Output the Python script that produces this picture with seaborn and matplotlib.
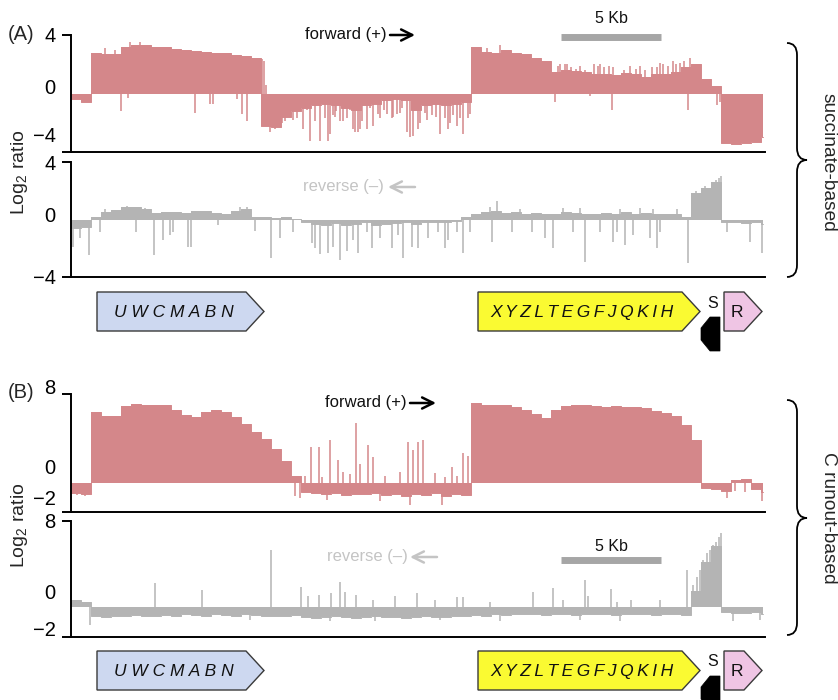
import numpy as np
import pandas as pd
import matplotlib
matplotlib.use("Agg")
import matplotlib.pyplot as plt
import seaborn as sns
from matplotlib.patches import Polygon, PathPatch
from matplotlib.path import Path
from matplotlib.transforms import ScaledTranslation, blended_transform_factory

# ---------------- data ----------------
bin_kb = 0.5           # width of one signal bin (kb)
track_end_kb = 34.6    # end of the displayed region (kb)

# (A) succinate-based, forward (+) strand, log2 ratio per 0.5 kb bin
succ_fwd = [-0.35, -0.6, 2.8, 2.7, 2.7, 3.2, 3.35, 3.3, 3.2, 3.15,
            3.05, 2.95, 2.9, 2.85, 2.8, 2.75, 2.65, 2.55, 2.45, -2.2,
            -2.3, -1.6, -1.2, -1.0, -0.8, -0.7, -0.8, -1.0, -1.15, -0.8,
            -0.7, -0.45, -0.35, -0.45, -1.15, -0.8, -0.7, -0.8, -0.7, -0.6,
            3.2, 2.85, 2.75, 2.95, 2.75, 2.7, 2.4, 2.2, 1.5, 1.6,
            1.55, 1.45, 1.3, 1.35, 1.25, 1.4, 1.35, 1.15, 1.3, 1.35,
            1.45, 1.8, 2.05, 1.0, 0.5, -3.4, -3.45, -3.4, -3.35, -3.0]
succ_fwd_spike_kb = [1.7, 2.2, 2.5, 2.85, 2.95, 3.45, 6.2, 6.95, 7.1, 8.3, 8.55, 8.8, 9.55, 9.65, 9.75,
                     9.95, 10.2, 10.55, 10.7, 10.8, 11.1, 11.25, 11.3, 11.45, 11.6, 11.8, 11.95,
                     12.2, 12.45, 12.7, 12.85, 12.95, 13.1, 13.2, 13.25, 13.45, 13.6, 13.8,
                     13.95, 14.1, 14.2, 14.35, 14.45, 14.55, 14.8, 14.95, 15.1, 15.35, 15.45,
                     15.65, 15.8, 16.05, 16.1, 16.3, 16.45, 16.55, 16.8, 16.95, 17.1, 17.35,
                     17.45, 17.7, 17.8, 18.05, 18.25, 18.45, 18.7, 18.85, 18.95, 19.1, 19.3,
                     19.45, 19.6, 19.85, 19.95,
                     20.8, 21.45, 24.2, 24.35, 24.45, 24.7, 24.8, 25.0, 25.25, 25.45, 25.7,
                     25.95, 26.15, 26.35, 26.45, 26.65, 26.9, 27.05, 27.1, 27.65, 27.95,
                     28.25, 28.45, 28.7, 29.05, 29.3, 29.45, 29.6, 29.85, 30.1, 30.25,
                     30.45, 30.65, 30.85, 30.95, 32.3, 32.45]
succ_fwd_spike_val = [3.1, 3.0, -1.2, -0.3, 3.5, 3.55, -1.3, -0.7, -0.75, -0.4, -1.4, -1.9, 2.35, 2.2, 0.6,
                      -2.6, -2.4, -2.0, -1.9, -1.6, -1.8, -1.0, -1.7, -1.2, -2.45, -1.1, -3.25,
                      -1.9, -3.25, -1.7, -3.25, -2.8, -1.5, -1.6, -1.2, -1.9, -1.9, -1.7,
                      -1.1, -2.4, -2.65, -2.6, -2.4, -1.9, -2.4, -1.0, -2.2, -1.4, -1.7,
                      -1.1, -1.4, -1.7, -1.6, -1.4, -1.3, -1.0, -2.6, -3.0, -2.9, -2.4,
                      -2.0, -1.3, -1.8, -1.5, -1.6, -2.8, -1.7, -2.4, -2.0, -1.5, -2.2,
                      -1.7, -2.8, -1.7, -1.4,
                      3.1, 3.3, -0.6, 1.9, 2.0, 2.0, 2.0, 1.8, 1.7, 1.9, 1.6,
                      -0.2, 2.0, 1.9, 2.0, 1.8, 1.9, -1.1, 1.8, 1.6, 1.9,
                      1.7, 1.9, 1.6, 1.8, 1.8, 2.1, 2.0, 1.9, 2.2, 2.0,
                      2.1, 2.2, -1.1, 2.4, -0.8, -0.6]

# (A) succinate-based, reverse (-) strand
succ_rev = [-0.6, -0.5, 0.15, 0.55, 0.65, 0.85, 0.9, 0.7, 0.45, 0.5,
            0.55, 0.45, 0.6, 0.6, 0.45, 0.4, 0.6, 0.7, 0.2, 0.15,
            0.1, 0.15, 0.05, -0.15, -0.3, -0.35, -0.25, -0.4, -0.3, -0.2,
            -0.35, -0.3, -0.25, -0.2, -0.3, -0.2, -0.15, -0.2, -0.1, 0.15,
            0.4, 0.5, 0.6, 0.45, 0.5, 0.4, 0.45, 0.35, 0.4, 0.5,
            0.45, 0.35, 0.4, 0.45, 0.4, 0.5, 0.4, 0.45, 0.4, 0.35,
            0.4, 0.2, 1.85, 2.2, 2.6, -0.15, -0.2, -0.25, -0.2, -0.3]
succ_rev_spike_kb = [0.1, 0.45, 0.9, 1.45, 3.25, 4.15, 4.6, 4.95, 5.1, 5.85, 6.0, 7.35, 9.2,
                     10.0, 10.45, 11.1, 12.05, 12.2, 12.45, 12.85, 13.1, 13.45, 13.8, 14.1,
                     14.35, 14.8, 15.05, 15.45, 16.05, 16.35, 16.6, 17.05, 17.35, 17.85,
                     18.35, 18.7, 18.85, 19.3, 19.6, 19.95, 21.05, 22.05, 23.05, 23.7,
                     24.1, 25.1, 25.7, 26.45, 27.1, 27.3, 27.7, 28.1, 28.95, 29.3, 29.45,
                     30.85, 32.8, 33.95, 34.55,
                     2.8, 20.95, 21.3, 22.45, 24.6, 25.45, 27.45, 28.45, 29.1, 30.3,
                     31.25, 31.7, 32.05, 32.25, 32.4, 32.5, 1.7, 3.7, 8.45, 8.8]
succ_rev_spike_val = [-1.9, -1.3, -2.45, -0.9, -0.9, -2.45, -1.4, -1.1, -0.9, -1.9, -1.9, -0.4, -0.8,
                      -2.7, -1.3, -0.9, -1.6, -2.0, -2.4, -2.3, -1.9, -2.8, -2.2, -1.4,
                      -2.3, -0.9, -2.0, -1.3, -2.0, -1.1, -2.7, -1.9, -2.0, -1.3,
                      -0.9, -2.0, -1.4, -0.9, -2.35, -0.9, -1.55, -0.9, -0.9, -1.3,
                      -2.0, -0.9, -2.95, -0.9, -1.55, -0.9, -1.8, -1.1, -1.3, -2.0, -0.9,
                      -3.05, -0.9, -1.55, -2.35,
                      0.95, 0.9, 1.3, 0.7, 0.8, 0.8, 0.7, 0.8, 0.7, 0.7,
                      2.0, 2.3, 2.6, 2.75, 2.9, 3.0, 0.7, 0.8, 0.9, 0.85]

# (B) C runout-based, forward (+) strand
runout_fwd = [-0.9, -1.0, 6.4, 6.0, 6.0, 6.9, 7.1, 7.05, 7.0, 7.05,
              6.6, 6.15, 5.9, 6.4, 6.55, 6.4, 5.9, 5.3, 4.6, 4.0,
              3.1, 2.0, 0.6, -0.8, -0.9, -1.0, -0.85, -1.1, -0.95, -1.0,
              -0.9, -1.05, -0.95, -1.2, -1.0, -1.1, -0.9, -1.2, -1.0, -1.1,
              7.2, 7.05, 7.0, 7.0, 6.85, 6.55, 6.2, 5.8, 6.6, 6.95,
              7.0, 7.0, 6.9, 6.85, 6.95, 6.85, 6.8, 6.7, 6.45, 6.25,
              6.05, 5.2, 3.9, -0.4, -0.5, -0.7, 0.3, 0.35, -0.5, -0.8]
runout_fwd_spike_kb = [0.3, 0.7, 11.0, 11.2, 11.45, 11.7, 12.0, 12.4, 12.55, 12.8, 12.95, 13.35,
                       13.6, 13.95, 14.25, 14.45, 14.85, 15.1, 15.45, 15.7, 16.45, 16.85,
                       16.95, 17.1, 17.35, 17.6, 18.2, 18.55, 18.7, 19.05, 19.3, 19.6, 19.85,
                       32.8, 33.2, 33.7, 34.55]
runout_fwd_spike_val = [-1.1, -1.15, 0.3, -1.2, -1.3, 0.6, 3.25, 3.25, 0.5, -1.5, 3.85, 2.05,
                        1.0, 0.8, 5.4, 1.75, 3.4, 2.35, -1.6, 0.6, 1.0, 3.7,
                        -2.0, 2.95, 3.7, 3.9, 0.9, -2.0, 0.5, 1.45, 0.6, 2.7, 2.4,
                        -1.35, -0.7, -0.8, -1.6]

# (B) C runout-based, reverse (-) strand
runout_rev = [0.6, 0.5, -0.85, -0.9, -0.8, -0.85, -0.75, -0.8, -0.85, -0.75,
              -0.8, -0.7, -0.75, -0.8, -0.7, -0.75, -0.8, -0.7, -0.75, -0.8,
              -0.85, -0.8, -0.75, -0.9, -1.0, -0.95, -0.85, -0.9, -1.0, -0.95,
              -0.85, -0.9, -0.95, -1.0, -0.9, -0.85, -0.9, -0.95, -0.8, -0.85,
              -0.75, -0.8, -0.7, -0.75, -0.7, -0.65, -0.7, -0.75, -0.65, -0.7,
              -0.75, -0.7, -0.65, -0.7, -0.75, -0.7, -0.65, -0.7, -0.75, -0.7,
              -0.65, -0.75, 1.5, 4.2, 5.7, -0.5, -0.55, -0.6, -0.5, -0.7]
runout_rev_spike_kb = [4.2, 6.55, 10.0, 11.5, 11.85, 12.4, 13.0, 13.45, 13.7, 14.25, 15.1, 16.2,
                       17.3, 18.2, 19.3, 19.6, 20.95, 23.1, 24.1, 24.6, 25.7, 25.85, 27.0,
                       27.3, 28.0, 29.45, 30.8, 31.1, 31.3, 31.45, 31.6, 31.8, 31.95, 32.1,
                       32.25, 32.4, 32.5,
                       0.95, 8.95, 12.95, 15.2, 18.45, 21.45, 25.45, 27.45, 33.1, 34.45]
runout_rev_spike_val = [2.2, 1.6, 5.3, 1.9, 1.0, 1.1, 1.3, 2.35, 1.4, 1.1, 0.65, 1.0,
                        1.3, 0.6, 0.9, 0.9, 0.5, 1.4, 1.75, 0.65, 2.5, 1.0, 1.65,
                        0.5, 0.65, 0.65, 3.45, 2.0, 2.8, 3.4, 4.35, 5.0, 5.3, 5.75,
                        6.0, 6.5, 6.85,
                        -1.7, -1.2, -1.3, -1.3, -1.2, -1.3, -1.2, -1.3, -1.35, -1.2]

# genes (kb)
gene_labels = [' '.join('UWCMABN'), '\u2009'.join('XYZLTEGFJQKIH'), 'R']
gene_start_kb = [1.3, 20.35, 32.65]
gene_end_kb = [9.65, 31.45, 34.55]
gene_colors = ['#cdd8f0', '#fafa32', '#efc5e4']
geneS_start_kb, geneS_end_kb = 31.5, 32.45
scale_bar_kb = (24.5, 29.5)

# ---------------- style ----------------
sns.set_theme(style="white")
plt.rcParams['font.family'] = ['Liberation Sans', 'DejaVu Sans']

RED = '#d4878a'
GREY = '#b4b4b4'
LIGHT = '#c4c4c4'
W, H = 838, 700

fig = plt.figure(figsize=(W / 100, H / 100), dpi=100)


def px_axes(left, top, right, bottom, **kw):
    return fig.add_axes([left / W, 1 - bottom / H, (right - left) / W, (bottom - top) / H], **kw)


def draw_track(ax, vals, spk_kb, spk_val, color, ylim, ticks, ticklabels, shifts_px):
    starts = np.arange(len(vals)) * bin_kb
    edges = np.append(starts, track_end_kb)
    yv = np.append(vals, vals[-1])
    df = pd.DataFrame({'kb': edges, 'log2': yv})
    ax.fill_between(df['kb'], 0, df['log2'], step='post', color=color, lw=0, zorder=2)
    sns.lineplot(data=df, x='kb', y='log2', drawstyle='steps-post', color=color, lw=0.7, ax=ax, zorder=2)
    ax.vlines(spk_kb, 0, spk_val, colors=color, lw=1.1, zorder=2)
    ax.set_xlim(0, 34.7)
    ax.set_ylim(*ylim)
    ax.set_xlabel('')
    ax.set_ylabel('')
    ax.set_xticks([])
    ax.patch.set_alpha(0)
    for s in ['top', 'right']:
        ax.spines[s].set_visible(False)
    for s in ['left', 'bottom']:
        ax.spines[s].set_color('black')
        ax.spines[s].set_linewidth(1.4)
    ax.yaxis.remove_overlapping_locs = False
    ax.tick_params(axis='y', which='major', left=False, length=0, pad=11,
                   labelsize=14.5, labelcolor='black')
    ax.tick_params(axis='y', which='minor', left=True, length=6.5, width=1.4, color='black')
    ax.set_yticks(ticks)
    ax.set_yticklabels(ticklabels)
    ax.set_yticks(list(ylim), minor=True)
    for tick, sh in zip(ax.yaxis.get_major_ticks(), shifts_px):
        tick.label1.set_transform(tick.label1.get_transform() +
                                  ScaledTranslation(0, sh / 100, fig.dpi_scale_trans))


def draw_genes(gax):
    gax.set_xlim(0, 34.7)
    gax.set_ylim(75, 0)
    gax.axis('off')
    head = 0.9
    y0, y1 = 7, 46
    for lab, st, en, fc in zip(gene_labels, gene_start_kb, gene_end_kb, gene_colors):
        body = en - head
        gax.add_patch(Polygon([(st, y0), (body, y0), (en, (y0 + y1) / 2), (body, y1), (st, y1)],
                              closed=True, fc=fc, ec='#3a3a3a', lw=1.0, clip_on=False))
        cx = (st + body) / 2 + (0.12 if lab == 'R' else 0.1)
        gax.text(cx, (y0 + y1) / 2 + 1, lab, ha='center', va='center', fontsize=12.5,
                 style='normal' if lab == 'R' else 'italic', color='#111111')
    mid = geneS_start_kb + 0.45
    gax.add_patch(Polygon([(geneS_end_kb, 32), (mid, 32), (geneS_start_kb, 43),
                           (geneS_start_kb, 55), (mid, 66), (geneS_end_kb, 66)],
                          closed=True, fc='black', ec='black', lw=0.5, clip_on=False))
    gax.text((geneS_start_kb + geneS_end_kb) / 2 + 0.1, 18, 'S', ha='center', va='center',
             fontsize=11.5, color='#111111')


def brace(ax, ytop, ytip, ybot, x0=787, xs=797, xt=807):
    verts = [(x0, ytop), (xs, ytop), (xs, ytop + 12), (xs, ytip - 12), (xs, ytip), (xt, ytip),
             (xs, ytip), (xs, ytip + 12), (xs, ybot - 12), (xs, ybot), (x0, ybot)]
    codes = [Path.MOVETO, Path.CURVE3, Path.CURVE3, Path.LINETO, Path.CURVE3, Path.CURVE3,
             Path.CURVE3, Path.CURVE3, Path.LINETO, Path.CURVE3, Path.CURVE3]
    ax.add_patch(PathPatch(Path(verts, codes), fill=False, lw=1.3, ec='black'))


axA_f = px_axes(71, 35, 765, 152)
axA_r = px_axes(71, 162, 765, 277)
axB_f = px_axes(71, 394, 765, 512)
axB_r = px_axes(71, 521, 765, 637)

draw_track(axA_f, succ_fwd, succ_fwd_spike_kb, succ_fwd_spike_val, RED,
           (-4, 4), [4, 0, -4], ['4', '0', '\u22124'], [0, 7, 17])
draw_track(axA_r, succ_rev, succ_rev_spike_kb, succ_rev_spike_val, GREY,
           (-4, 4), [4, 0, -4], ['4', '0', '\u22124'], [-1, 4.5, 0])
draw_track(axB_f, runout_fwd, runout_fwd_spike_kb, runout_fwd_spike_val, RED,
           (-2.6, 8), [8, 0, -2], ['8', '0', '\u22122'], [7, 17, 8])
draw_track(axB_r, runout_rev, runout_rev_spike_kb, runout_rev_spike_val, GREY,
           (-2.8, 8), [8, 0, -2], ['8', '0', '\u22122'], [0, 15, 0])

# scale bars (5 kb)
for ax, ybar, ytxt in [(axA_f, 0.983, 1.137), (axB_r, 0.664, 0.784)]:
    tr = blended_transform_factory(ax.transData, ax.transAxes)
    ax.plot(list(scale_bar_kb), [ybar, ybar], transform=tr, color='#a6a6a6', lw=5,
            solid_capstyle='butt', clip_on=False)
    ax.text(sum(scale_bar_kb) / 2, ytxt, '5 Kb', transform=tr, ha='center', va='center',
            fontsize=11.5, color='#111111')

# gene maps
draw_genes(px_axes(71, 285, 765, 360))
draw_genes(px_axes(71, 644, 765, 719))

# overlay for labels / braces
ov = fig.add_axes([0, 0, 1, 1], zorder=5)
ov.set_xlim(0, W)
ov.set_ylim(H, 0)
ov.axis('off')
ov.patch.set_alpha(0)

ov.text(8, 34, '(A)', fontsize=14.5, ha='left', va='center')
ov.text(8, 392, '(B)', fontsize=14.5, ha='left', va='center')
ov.text(20, 172, 'Log$_{\\mathregular{2}}$ ratio', rotation=90, fontsize=14, ha='center', va='center')
ov.text(20, 525, 'Log$_{\\mathregular{2}}$ ratio', rotation=90, fontsize=14, ha='center', va='center')

arrow_kw = dict(arrowstyle='->', lw=1.8, mutation_scale=20, shrinkA=0, shrinkB=0)
for (tx, ty, x_from, x_to) in [(305, 35, 390, 415), (325, 403, 410, 436)]:
    ov.text(tx, ty, 'forward (+)', fontsize=12, ha='left', va='center', color='#111111')
    ov.annotate('', xy=(x_to, ty), xytext=(x_from, ty), arrowprops=dict(color='black', **arrow_kw))
for (tx, ty, x_from, x_to) in [(303, 187, 415, 388), (327, 557, 437, 410)]:
    ov.text(tx, ty, 'reverse (\u2013)', fontsize=12, ha='left', va='center', color=LIGHT)
    ov.annotate('', xy=(x_to, ty), xytext=(x_from, ty), arrowprops=dict(color=LIGHT, **arrow_kw))

brace(ov, 43, 160, 277)
brace(ov, 400, 518, 635)
ov.text(828, 162, 'succinate-based', rotation=270, fontsize=13.8, ha='center', va='center')
ov.text(828, 518, 'C runout-based', rotation=270, fontsize=13.8, ha='center', va='center')

fig.savefig('out.png', dpi=100)
